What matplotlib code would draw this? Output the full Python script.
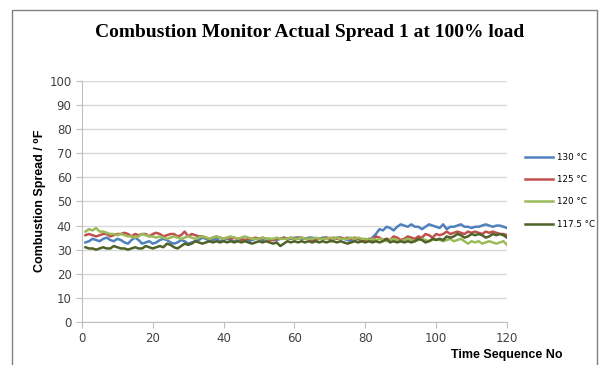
import matplotlib
matplotlib.use('Agg')
import matplotlib.pyplot as plt
from matplotlib.patches import Rectangle

# Data
seq = list(range(1, 121))

t130 = [33, 33.5, 34.5, 34, 33.5, 34.5, 35, 34, 33.5, 34.5,
        34, 33, 32.5, 34, 35, 34, 32.5, 33, 33.5, 32.5,
        33, 34, 34.5, 34, 33, 32.5, 33, 34, 33.5, 32.5,
        33, 33.5, 34, 35, 34.5, 33.5, 34, 34.5, 33.5, 34,
        34.5, 34, 33.5, 34, 34.5, 34, 33.5, 34, 34.5, 34.5,
        34, 34.5, 34.5, 34, 34, 34.5, 35, 34.5, 34.5, 35,
        35, 34.5, 34.5, 35, 35, 34.5, 34.5, 35, 35, 34.5,
        34.5, 35, 35, 34.5, 34, 33.5, 34, 34.5, 34, 33.5,
        34, 35, 36.5, 38.5, 38, 39.5, 39, 38, 39.5, 40.5,
        40, 39.5, 40.5, 39.5, 39.5, 38.5, 39.5, 40.5, 40, 39.5,
        39, 40.5, 38.5, 39.5, 39.5, 40, 40.5, 39.5, 39.5, 39,
        39.5, 39.5, 40, 40.5, 40, 39.5, 40, 40, 39.5, 39]

t125 = [36, 36.5, 36, 35.5, 36, 36.5, 36.5, 35.5, 36, 36.5,
        36.5, 37, 36.5, 35.5, 36.5, 36, 36.5, 36.5, 35.5, 36.5,
        37, 36.5, 35.5, 36, 36.5, 36.5, 35.5, 36, 37.5, 35.5,
        36.5, 36, 35.5, 35.5, 35, 34.5, 35, 35.5, 35, 34.5,
        35, 34.5, 35, 34.5, 34, 34, 34.5, 34.5, 35, 34.5,
        35, 34.5, 34, 34, 34.5, 34.5, 35, 34.5, 35, 34.5,
        35, 35, 34.5, 34.5, 34, 34, 34.5, 34.5, 35, 34.5,
        35, 34.5, 35, 34.5, 35, 34.5, 35, 34.5, 33.5, 34,
        34.5, 34, 35.5, 35, 34, 34.5, 34, 35.5, 35, 34,
        34.5, 35.5, 35, 34.5, 35.5, 35, 36.5, 36, 35, 36.5,
        36, 36.5, 37.5, 36.5, 37, 37.5, 37, 36.5, 37.5, 37,
        37.5, 37, 36.5, 37.5, 37, 37.5, 37, 36.5, 36.5, 36]

t120 = [37.5, 38.5, 38, 39, 37.5, 37.5, 37, 36.5, 36.5, 36,
        36.5, 36, 35.5, 35.5, 35, 35.5, 36.5, 36, 35.5, 35.5,
        35, 35.5, 35, 34.5, 35, 35.5, 35, 34.5, 35, 35.5,
        35, 34.5, 35, 35.5, 35, 34.5, 35, 35.5, 35, 34.5,
        35, 35.5, 35, 34.5, 35, 35.5, 35, 34.5, 34.5, 34.5,
        35, 34.5, 34.5, 34.5, 35, 34.5, 34.5, 34.5, 35, 34.5,
        34.5, 35, 34.5, 34.5, 34.5, 35, 34.5, 34.5, 34.5, 35,
        34.5, 35, 34.5, 34.5, 34.5, 35, 34.5, 35, 34.5, 34.5,
        34, 34.5, 34, 34.5, 34, 33.5, 34, 34.5, 34, 33.5,
        34, 34.5, 34, 33.5, 34, 34.5, 34, 33.5, 34, 34.5,
        34, 33.5, 34, 34.5, 33.5, 34, 34.5, 33.5, 32.5, 33.5,
        33, 33.5, 32.5, 33, 33.5, 33, 32.5, 33, 33.5, 32]

t117 = [31, 30.5, 30.5, 30, 30.5, 31, 30.5, 30.5, 31.5, 31,
        30.5, 30.5, 30, 30.5, 31, 30.5, 30.5, 31.5, 31, 30.5,
        31, 31.5, 31, 32.5, 32, 31, 30.5, 31.5, 32.5, 32,
        32.5, 33.5, 33, 32.5, 33, 33.5, 33, 33.5, 33, 33.5,
        33, 33.5, 33, 33.5, 33, 33.5, 33, 32.5, 33, 33.5,
        33, 33.5, 33, 32.5, 33, 31.5, 32.5, 33.5, 33, 33.5,
        33, 33.5, 33, 33.5, 33, 33.5, 33, 33.5, 33, 33.5,
        33.5, 33, 33.5, 33, 32.5, 33, 33.5, 33, 33.5, 33,
        33.5, 33, 33.5, 33, 33.5, 34.5, 33, 33.5, 33, 33.5,
        33, 33.5, 33, 33.5, 34.5, 34, 33, 33.5, 34.5, 34,
        34.5, 34, 35.5, 35, 35.5, 36.5, 36, 35, 35.5, 36.5,
        36, 36.5, 36, 35, 35.5, 36.5, 36, 36.5, 36, 35]

labels = ['130 °C', '125 °C', '120 °C', '117.5 °C']
colors = ['#4F81BD', '#C0504D', '#9BBB59', '#4F6228']

fig = plt.figure(figsize=(6.16, 3.65), dpi=100)
ax = fig.add_axes([0.133, 0.118, 0.690, 0.660])

for vals, lab, col in zip([t130, t125, t120, t117], labels, colors):
    ax.plot(seq, vals, color=col, lw=1.8, label=lab)

ax.set_xlim(0, 120)
ax.set_ylim(0, 100)
ax.set_xticks(range(0, 121, 20))
ax.set_yticks(range(0, 101, 10))
ax.grid(axis='y', color='#D9D9D9', lw=1)
ax.set_axisbelow(True)
for s in ['top', 'right']:
    ax.spines[s].set_visible(False)
for s in ['left', 'bottom']:
    ax.spines[s].set_color('#BFBFBF')
ax.tick_params(colors='#BFBFBF', labelcolor='#404040', labelsize=8.5, length=4)

fig.text(0.503, 0.91, 'Combustion Monitor Actual Spread 1 at 100% load',
         ha='center', va='center', fontsize=14, fontweight='bold',
         family='Liberation Serif')
fig.text(0.065, 0.45, 'Combustion Spread / ⁰F', rotation=90, ha='center', va='center',
         fontsize=9, fontweight='bold', family=['Liberation Sans', 'DejaVu Sans'])
fig.text(0.823, 0.027, 'Time Sequence No', ha='center', va='center',
         fontsize=9, fontweight='bold', family='Liberation Sans')

leg = fig.legend(loc='center left', bbox_to_anchor=(0.84, 0.477), frameon=False,
                 fontsize=6.3, handlelength=3.2, labelspacing=1.5, handletextpad=0.4)

fig.patches.append(Rectangle((12 / 616, -0.1), 585 / 616, 1 - 10 / 365 + 0.1,
                             transform=fig.transFigure, fill=False,
                             edgecolor='#808080', lw=1))

fig.savefig('out.png', dpi=100)
